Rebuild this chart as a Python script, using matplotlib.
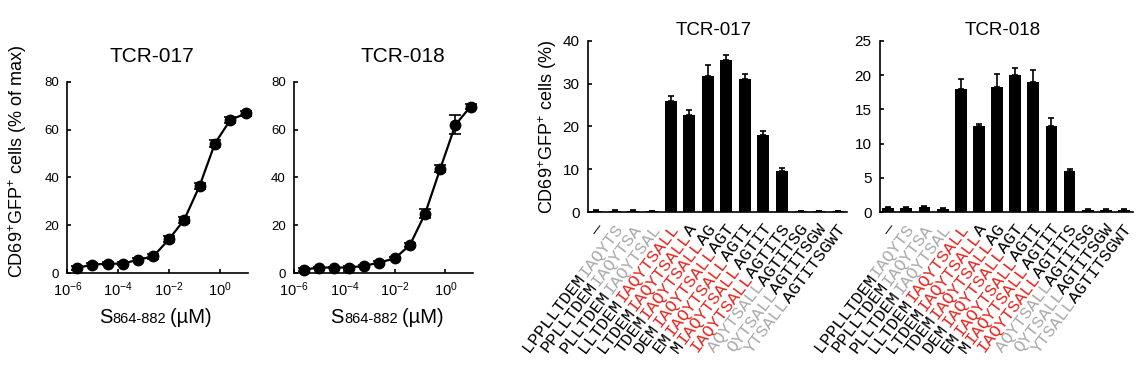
import numpy as np
import matplotlib
matplotlib.use("Agg")
import matplotlib.pyplot as plt
from matplotlib.ticker import NullLocator
from matplotlib.offsetbox import TextArea, HPacker, AnnotationBbox

plt.rcParams['font.family'] = ['Liberation Sans', 'DejaVu Sans']
plt.rcParams['mathtext.default'] = 'regular'

# dose response, S864-882 peptide (uM)
conc = [2.4e-6, 9.5e-6, 3.8e-5, 1.5e-4, 6.1e-4, 2.4e-3, 9.8e-3, 0.039, 0.156, 0.625, 2.5, 10]
tcr017_resp = [2.1, 3.5, 3.9, 3.9, 5.6, 7.0, 14.1, 22.3, 36.4, 54.2, 64.0, 66.8]
tcr017_err = [0.8, 0.6, 0.6, 0.6, 0.7, 1.0, 1.2, 1.3, 1.2, 1.6, 1.2, 1.0]
tcr018_resp = [1.4, 2.3, 2.3, 2.3, 3.0, 4.4, 6.1, 11.7, 24.8, 43.7, 62.1, 69.7]
tcr018_err = [0.5, 0.4, 0.4, 0.5, 0.5, 0.6, 0.8, 1.0, 1.8, 1.5, 4.1, 1.0]

# 15-mer peptide scan
bar017 = [0.4, 0.4, 0.4, 0.2, 26.0, 22.7, 31.8, 35.5, 31.1, 18.0, 9.7, 0.2, 0.2, 0.2]
bar017_err = [0.2, 0.1, 0.2, 0.1, 1.2, 1.1, 2.6, 1.2, 1.1, 1.0, 0.7, 0.1, 0.1, 0.1]
bar018 = [0.6, 0.6, 0.7, 0.5, 17.9, 12.5, 18.2, 20.0, 19.0, 12.5, 6.0, 0.4, 0.4, 0.4]
bar018_err = [0.2, 0.2, 0.2, 0.1, 1.5, 0.3, 1.9, 1.0, 1.8, 1.3, 0.25, 0.1, 0.1, 0.1]

K, G, R = 'black', '#aaaaaa', '#e5261f'
pep_labels = [
    [("—", K)],
    [("LPPLLTDEM", K), ("IAQYTS", G)],
    [("PPLLTDEM", K), ("IAQYTSA", G)],
    [("PLLTDEM", K), ("IAQYTSAL", G)],
    [("LLTDEM", K), ("IAQYTSALL", R)],
    [("LTDEM", K), ("IAQYTSALL", R), ("A", K)],
    [("TDEM", K), ("IAQYTSALL", R), ("AG", K)],
    [("DEM", K), ("IAQYTSALL", R), ("AGT", K)],
    [("EM", K), ("IAQYTSALL", R), ("AGTI", K)],
    [("M", K), ("IAQYTSALL", R), ("AGTIT", K)],
    [("IAQYTSALL", R), ("AGTITS", K)],
    [("AQYTSALL", G), ("AGTITSG", K)],
    [("QYTSALL", G), ("AGTITSGW", K)],
    [("YTSALL", G), ("AGTITSGWT", K)],
]

ROT = 53
LAB_SIZE = 12.5


def style_axes(ax, lw=1.2):
    for side in ['top', 'right']:
        ax.spines[side].set_visible(False)
    for side in ['left', 'bottom']:
        ax.spines[side].set_linewidth(lw)


def dose_panel(ax, resp, err, title, title_x, label_x):
    ax.errorbar(conc, resp, yerr=err, fmt='o-', color='k', ms=7.5, lw=1.6,
                capsize=4, elinewidth=1.2, capthick=1.2, clip_on=False, zorder=3)
    ax.set_xscale('log')
    ax.set_xlim(1e-6, 12)
    ax.set_ylim(0, 80)
    ax.set_yticks([0, 20, 40, 60, 80])
    ax.set_xticks([1e-6, 1e-4, 1e-2, 1])
    ax.xaxis.set_minor_locator(NullLocator())
    style_axes(ax)
    ax.tick_params(axis='y', direction='in', length=3, width=1.2, labelsize=9.5, pad=6)
    ax.tick_params(axis='x', direction='in', length=3, width=1.2, labelsize=10.5, pad=5)
    ax.set_title(title, x=title_x, fontsize=15, pad=14)
    # S with smaller "864-882" on the same baseline
    parts = [TextArea("S", textprops=dict(size=14.5)),
             TextArea("864-882", textprops=dict(size=10.5)),
             TextArea("\u2009(µM)", textprops=dict(size=14.5))]
    box = HPacker(children=parts, align="baseline", pad=0, sep=0)
    ab = AnnotationBbox(box, (label_x, -0.235), xycoords='axes fraction',
                        frameon=False, box_alignment=(0.5, 0.5))
    ax.add_artist(ab)


def bar_panel(ax, vals, err, title, ymax, step):
    x = np.arange(len(vals))
    ax.bar(x, vals, width=0.65, color='k',
           yerr=[np.zeros(len(err)), err],
           error_kw=dict(ecolor='k', elinewidth=1.2, capsize=2, capthick=1.2))
    ax.set_xlim(-0.45, len(vals) - 0.5)
    ax.set_ylim(0, ymax)
    ax.set_yticks(np.arange(0, ymax + 1, step))
    style_axes(ax)
    ax.tick_params(axis='y', direction='in', length=3, width=1.2, labelsize=11, pad=6)
    ax.set_xticks([])
    ax.set_title(title, x=0.485, fontsize=13.5, pad=4)

    ang = np.deg2rad(ROT)
    cw = LAB_SIZE * 0.6
    x0, y0 = 6, -12
    for i, segs in enumerate(pep_labels):
        n = sum(len(s) for s, c in segs)
        end = 0
        for s, c in segs:
            end += len(s)
            back = (n - end) * cw
            ax.annotate(s, (i, 0), xycoords=ax.get_xaxis_transform(),
                        xytext=(x0 - back * np.cos(ang), y0 - back * np.sin(ang)),
                        textcoords='offset points', rotation=ROT,
                        rotation_mode='anchor', ha='right', va='baseline',
                        color=c, family='Liberation Mono', size=LAB_SIZE,
                        annotation_clip=False)


fig = plt.figure(figsize=(11.45, 3.74), dpi=100)

ax1 = fig.add_axes([0.0588, 0.270, 0.1574, 0.511])
ax2 = fig.add_axes([0.2568, 0.270, 0.1560, 0.511])
ax3 = fig.add_axes([0.5135, 0.4324, 0.2262, 0.4588])
ax4 = fig.add_axes([0.7686, 0.4324, 0.2210, 0.4588])

dose_panel(ax1, tcr017_resp, tcr017_err, 'TCR-017', 0.468, 0.49)
dose_panel(ax2, tcr018_resp, tcr018_err, 'TCR-018', 0.61, 0.52)
bar_panel(ax3, bar017, bar017_err, 'TCR-017', 40, 10)
bar_panel(ax4, bar018, bar018_err, 'TCR-018', 25, 5)

fig.text(18 / 1145, 1 - 161.5 / 374, 'CD69$^{+}$GFP$^{+}$ cells (% of max)',
         rotation=90, ha='center', va='center', fontsize=13)
fig.text(548 / 1145, 1 - 126.5 / 374, 'CD69$^{+}$GFP$^{+}$ cells (%)',
         rotation=90, ha='center', va='center', fontsize=13)

fig.savefig('out.png', dpi=100)
